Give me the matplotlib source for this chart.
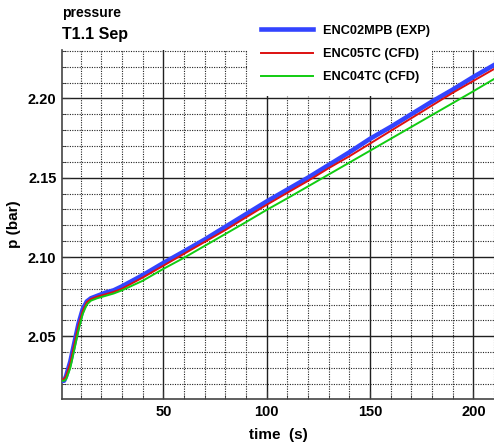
import numpy as np
import matplotlib
matplotlib.use("Agg")
import matplotlib.pyplot as plt
from matplotlib.ticker import MultipleLocator, FormatStrFormatter
from matplotlib.patches import Rectangle

plt.rcParams['font.family'] = ['Liberation Sans', 'DejaVu Sans']
plt.rcParams['font.weight'] = 'bold'

# time (s) and pressure (bar)
t_exp = [1, 2, 3, 5, 7, 9, 11, 13, 15, 18, 22, 26, 30, 35, 40, 50, 60, 70, 80,
         90, 100, 110, 120, 130, 140, 150, 160, 170, 180, 190, 200, 210]
p_exp = [2.022, 2.022, 2.025, 2.034, 2.046, 2.058, 2.067, 2.072, 2.074, 2.0755,
         2.0775, 2.079, 2.0815, 2.085, 2.0885, 2.0962, 2.1035, 2.111, 2.119,
         2.127, 2.135, 2.1425, 2.150, 2.158, 2.166, 2.1745, 2.182, 2.190,
         2.198, 2.2055, 2.2135, 2.221]

t_c05 = [1, 2, 3, 5, 7, 9, 11, 13, 15, 18, 22, 26, 30, 35, 40, 50, 60, 70, 80,
         90, 100, 110, 120, 130, 140, 150, 160, 170, 180, 190, 200, 210]
p_c05 = [2.023, 2.023, 2.025, 2.033, 2.045, 2.057, 2.066, 2.0715, 2.0735,
         2.075, 2.0765, 2.078, 2.080, 2.0835, 2.087, 2.0945, 2.102, 2.1095,
         2.117, 2.125, 2.1329, 2.1405, 2.148, 2.156, 2.1635, 2.1715, 2.1795,
         2.1875, 2.1955, 2.2035, 2.211, 2.2185]

t_c04 = [1, 2, 3, 5, 7, 9, 11, 13, 15, 18, 22, 26, 30, 35, 40, 50, 60, 70, 80,
         90, 100, 110, 120, 130, 140, 150, 160, 170, 180, 190, 200, 210]
p_c04 = [2.022, 2.022, 2.023, 2.030, 2.042, 2.054, 2.064, 2.070, 2.0725,
         2.074, 2.0755, 2.077, 2.079, 2.082, 2.085, 2.0925, 2.0995, 2.107,
         2.1145, 2.122, 2.1297, 2.137, 2.1445, 2.152, 2.1595, 2.167, 2.1745,
         2.182, 2.1895, 2.197, 2.2045, 2.2122]

W, H = 494, 446
fig = plt.figure(figsize=(W / 100, H / 100), dpi=100)
ax = fig.add_axes([62 / W, 1 - 399 / H, 1 - 62 / W, (399 - 50) / H])

ax.plot(t_exp, p_exp, color='#3344ff', lw=3.3, label='ENC02MPB (EXP)', zorder=3)
ax.plot(t_c05, p_c05, color='#dd1111', lw=1.4, label='ENC05TC (CFD)', zorder=4)
ax.plot(t_c04, p_c04, color='#11cc11', lw=1.4, label='ENC04TC (CFD)', zorder=4)

ax.set_xlim(1, 210)
ax.set_ylim(2.0105, 2.2305)
ax.xaxis.set_major_locator(MultipleLocator(50))
ax.xaxis.set_minor_locator(MultipleLocator(10))
ax.yaxis.set_major_locator(MultipleLocator(0.05))
ax.yaxis.set_minor_locator(MultipleLocator(0.01))
ax.yaxis.set_major_formatter(FormatStrFormatter('%.2f'))

ax.grid(True, which='major', color='#202020', lw=1.0, ls='-')
ax.grid(True, which='minor', color='#222222', lw=0.8, ls=(0, (1, 1.2)))
ax.set_axisbelow(True)

for s in ['top', 'right']:
    ax.spines[s].set_visible(False)
for s in ['left', 'bottom']:
    ax.spines[s].set_color('#444444')
    ax.spines[s].set_linewidth(1.2)

ax.tick_params(axis='both', which='major', direction='in', length=6,
               labelsize=10.5, pad=4, color='#333333')
ax.tick_params(axis='both', which='minor', direction='in', length=3,
               color='#333333')

ax.set_xlabel('time  (s)', fontsize=11, fontweight='bold', labelpad=7)
ax.set_ylabel('p (bar)', fontsize=11, fontweight='bold', labelpad=5)

fig.text(62 / W, 1 - 13 / H, 'pressure', fontsize=10, fontweight='bold', va='center')
fig.text(62 / W, 1 - 34 / H, 'T1.1 Sep', fontsize=11.5, fontweight='bold', va='center')

# white block behind the legend, hiding the grid there
ax.add_patch(Rectangle((248 / W, 1 - 96 / H), (432 - 248) / W, 86 / H,
                       transform=fig.transFigure, facecolor='white',
                       edgecolor='none', zorder=5, clip_on=False))

leg = ax.legend(loc='upper left', bbox_to_anchor=(257 / W, 1 - 21 / H),
                bbox_transform=fig.transFigure, frameon=False,
                fontsize=9.2, handlelength=4.1, handletextpad=0.75,
                labelspacing=0.88, borderpad=0.3, borderaxespad=0)
leg.set_zorder(10)
for txt in leg.get_texts():
    txt.set_fontweight('bold')

fig.savefig('out.png', dpi=100)
